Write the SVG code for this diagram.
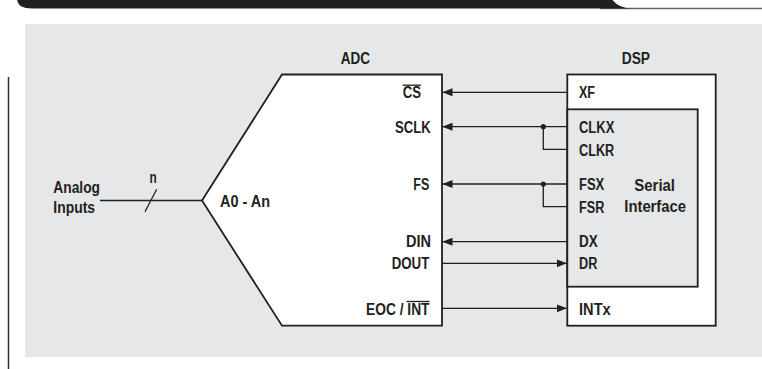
<svg xmlns="http://www.w3.org/2000/svg" width="762" height="369" viewBox="0 0 762 369">
<style>
text{font-family:"Liberation Sans",Arial,sans-serif;font-weight:bold;font-size:16px;fill:#231f20}
.box{fill:#fff;stroke:#231f20;stroke-width:1.8}
.w{fill:none;stroke:#231f20;stroke-width:1.3}
</style>
<defs>
<marker id="ah" viewBox="0 0 10 8" refX="10" refY="4" markerWidth="10" markerHeight="8" markerUnits="userSpaceOnUse" orient="auto"><path d="M0,0 L10,4 L0,8 Z" fill="#231f20"/></marker>
</defs>
<g id="banner">
<line x1="600" y1="8.5" x2="762" y2="8.5" stroke="#666" stroke-width="1.5"/>
<path d="M17,-2 Q17,8.5 32,8.5 L632,8.5 Q618,8.5 611,-2 Z" fill="#231f20"/>
</g>
<rect id="panel" x="25" y="24" width="737" height="333" fill="#e6e7e8"/>
<line x1="8.5" y1="77" x2="8.5" y2="369" stroke="#333" stroke-width="1.5"/>
<g id="adc">
<polygon class="box" points="282,74.5 442,74.5 442,325.7 282,325.7 202,200.5"/>
<text x="340.7" y="64" textLength="29.3" lengthAdjust="spacingAndGlyphs">ADC</text>
<text x="402.7" y="98" textLength="18.3" lengthAdjust="spacingAndGlyphs">CS</text>
<line x1="402.7" y1="85.2" x2="421" y2="85.2" stroke="#231f20" stroke-width="1.3"/>
<text x="395" y="133.3" textLength="35.7" lengthAdjust="spacingAndGlyphs">SCLK</text>
<text x="413.3" y="189.5" textLength="16" lengthAdjust="spacingAndGlyphs">FS</text>
<text x="406" y="246.7" textLength="25" lengthAdjust="spacingAndGlyphs">DIN</text>
<text x="391.7" y="269.3" textLength="37.6" lengthAdjust="spacingAndGlyphs">DOUT</text>
<text x="366" y="315" textLength="63.5" lengthAdjust="spacingAndGlyphs">EOC / INT</text>
<line x1="406.5" y1="301.5" x2="429.5" y2="301.5" stroke="#231f20" stroke-width="1.3"/>
<text x="220" y="207" textLength="50" lengthAdjust="spacingAndGlyphs">A0 - An</text>
</g>
<g id="dsp">
<rect class="box" x="567.3" y="74.5" width="148.4" height="251.2"/>
<rect x="567.3" y="109.3" width="130.4" height="177.4" fill="#e6e7e8" stroke="#231f20" stroke-width="1.8"/>
<text x="621.7" y="64" textLength="28.3" lengthAdjust="spacingAndGlyphs">DSP</text>
<text x="579" y="98" textLength="16" lengthAdjust="spacingAndGlyphs">XF</text>
<text x="579" y="133.3" textLength="35.3" lengthAdjust="spacingAndGlyphs">CLKX</text>
<text x="579" y="155.8" textLength="35.3" lengthAdjust="spacingAndGlyphs">CLKR</text>
<text x="579" y="190" textLength="25.3" lengthAdjust="spacingAndGlyphs">FSX</text>
<text x="579" y="212.5" textLength="25.3" lengthAdjust="spacingAndGlyphs">FSR</text>
<text x="579" y="247" textLength="18.7" lengthAdjust="spacingAndGlyphs">DX</text>
<text x="579" y="269.3" textLength="18.3" lengthAdjust="spacingAndGlyphs">DR</text>
<text x="579" y="315" textLength="31.7" lengthAdjust="spacingAndGlyphs">INTx</text>
<text x="634.3" y="191" textLength="40.7" lengthAdjust="spacingAndGlyphs">Serial</text>
<text x="624.3" y="212" textLength="61.7" lengthAdjust="spacingAndGlyphs">Interface</text>
</g>
<g id="analog-inputs">
<text x="53.3" y="193" textLength="46.7" lengthAdjust="spacingAndGlyphs">Analog</text>
<text x="53.3" y="213" textLength="41.7" lengthAdjust="spacingAndGlyphs">Inputs</text>
<text x="149.5" y="183" textLength="7.2" lengthAdjust="spacingAndGlyphs">n</text>
</g>
<g id="connectors">
<line class="w" x1="100" y1="200.5" x2="202" y2="200.5"/>
<line class="w" x1="145" y1="211.7" x2="156.7" y2="189.3"/>
<path class="w" d="M567.3,92.3 H442.5" marker-end="url(#ah)"/>
<path class="w" d="M567.3,126.7 H442.5" marker-end="url(#ah)"/>
<path class="w" d="M543.3,126.7 V149.3 H567.3"/>
<circle cx="543.3" cy="126.7" r="2.6" fill="#231f20"/>
<path class="w" d="M567.3,184 H442.5" marker-end="url(#ah)"/>
<path class="w" d="M543.3,184 V206.7 H567.3"/>
<circle cx="543.3" cy="184" r="2.6" fill="#231f20"/>
<path class="w" d="M567.3,241.7 H442.5" marker-end="url(#ah)"/>
<path class="w" d="M442,263.3 H566.8" marker-end="url(#ah)"/>
<path class="w" d="M442,308.3 H566.8" marker-end="url(#ah)"/>
</g>
</svg>
